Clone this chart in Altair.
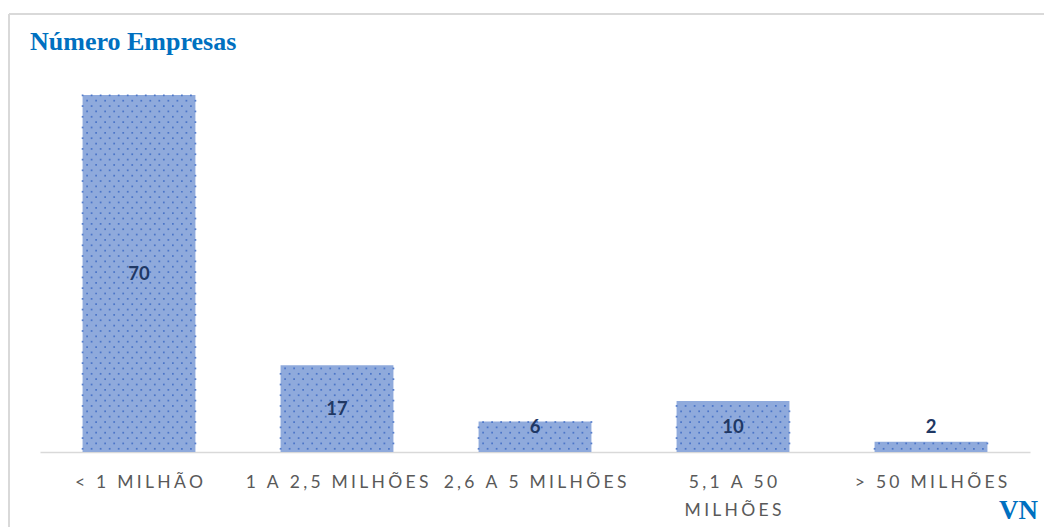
import altair as alt
import pandas as pd

categories = ["< 1 MILHÃO", "1 A 2,5 MILHÕES", "2,6 A 5 MILHÕES", "5,1 A 50|MILHÕES", "> 50 MILHÕES"]
values = [70, 17, 6, 10, 2]
title_text = "Número Empresas"
corner_text = "VN"

df = pd.DataFrame({"cat": categories, "value": values})
one = pd.DataFrame({"k": [0]})

W, H = 990, 357
SP = "\u2009\u200a"

x = alt.X(
    "cat:N",
    sort=categories,
    scale=alt.Scale(paddingInner=0.43, paddingOuter=0.215),
    axis=alt.Axis(
        title=None,
        ticks=False,
        grid=False,
        domainColor="#D9D9D9",
        domainWidth=1.5,
        labelAngle=0,
        labelOverlap=False,
        labelBound=False,
        labelFlush=False,
        labelLimit=400,
        labelFont="Lato",
        labelFontSize=17.5,
        labelColor="#595959",
        labelPadding=21,
        labelLineHeight=28,
        labelExpr=f"split(join(split(datum.label, ''), '{SP}'), '{SP}|{SP}')",
    ),
)
yscale = alt.Scale(domain=[0, 70], nice=False, zero=True)

base = alt.Chart(df)

bars = base.mark_bar(color="#8FAADC").encode(
    x=x,
    y=alt.Y("value:Q", scale=yscale, axis=None),
)

dots = (
    base.transform_calculate(r="sequence(0, floor(datum.value / 1.05) + 1)")
    .transform_flatten(["r"])
    .transform_calculate(c="sequence(0, 13)")
    .transform_flatten(["c"])
    .transform_calculate(
        ypos="(datum.r + 0.6) * 1.05",
        xo="2 * datum.c + (datum.r % 2)",
    )
    .transform_filter("datum.ypos < datum.value")
    .mark_square(size=3, color="#3F6CC4", opacity=0.85)
    .encode(
        x=alt.X("cat:N", sort=categories),
        xOffset=alt.XOffset("xo:O", scale=alt.Scale(domain=list(range(26)), paddingInner=0, paddingOuter=0)),
        y=alt.Y("ypos:Q", scale=yscale),
    )
)

labels = (
    base.transform_calculate(ly="max(datum.value / 2, 4.9)")
    .mark_text(font="Lato", fontSize=18.5, fontWeight="bold", color="#1F3864", baseline="middle")
    .encode(
        x=alt.X("cat:N", sort=categories),
        y=alt.Y("ly:Q", scale=yscale),
        text=alt.Text("value:Q"),
    )
)

title = alt.Chart(pd.DataFrame({"t": [title_text]})).mark_text(
    font="Liberation Serif", fontSize=26, fontWeight="bold", color="#0070C0", align="left", baseline="alphabetic"
).encode(x=alt.value(-10), y=alt.value(-45), text="t:N")

corner = alt.Chart(pd.DataFrame({"t": [corner_text]})).mark_text(
    font="Liberation Serif", fontSize=27, fontWeight="bold", color="#0070C0", align="right", baseline="alphabetic"
).encode(x=alt.value(998), y=alt.value(424), text="t:N")

frame_top = alt.Chart(one).mark_rule(color="#D9D9D9", strokeWidth=2).encode(
    x=alt.value(-31), x2=alt.value(1010), y=alt.value(-81)
)
frame_left = alt.Chart(one).mark_rule(color="#D9D9D9", strokeWidth=2).encode(
    x=alt.value(-31), y=alt.value(-81), y2=alt.value(440)
)

chart = (
    alt.layer(frame_top, frame_left, bars, dots, labels, title, corner)
    .resolve_scale(xOffset="independent")
    .properties(
        width=W,
        height=H,
        autosize=alt.AutoSizeParams(type="none"),
        padding={"left": 40, "top": 95, "right": 14, "bottom": 75},
        background="white",
    )
    .configure_view(stroke=None)
)

chart.save("out.html", embed_options={"renderer": "svg", "actions": False})
